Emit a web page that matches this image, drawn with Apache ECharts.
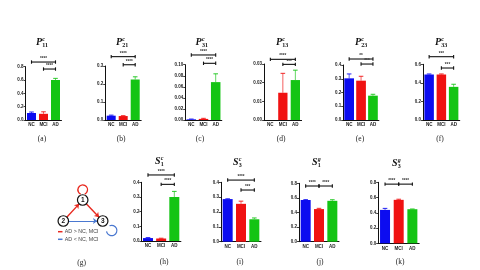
<!DOCTYPE html>
<html><head><meta charset="utf-8">
<script src="https://cdn.jsdelivr.net/npm/echarts@6/dist/echarts.min.js"></script>
<style>html,body{margin:0;padding:0;background:#fff}#c{width:480px;height:270px}</style>
</head><body><div id="c"></div>
<script>
// ---------- data ----------
const categories = ['NC', 'MCI', 'AD'];

const valuesA = [0.105, 0.093, 0.60];   const errA = [0.015, 0.03, 0.025];
const valuesB = [0.024, 0.022, 0.225];  const errB = [0.003, 0.002, 0.015];
const valuesC = [0.0012, 0.002, 0.0685]; const errC = [0.0005, 0.001, 0.015];
const valuesD = [0, 0.0146, 0.0214];    const errD = [0, 0.0104, 0.0053];
const valuesE = [0.303, 0.286, 0.177];  const errE = [0.032, 0.032, 0.01];
const valuesF = [0.49, 0.49, 0.357];    const errF = [0.006, 0.006, 0.028];
const valuesH = [0.02, 0.017, 0.30];    const errH = [0.003, 0.002, 0.038];
const valuesI = [0.287, 0.255, 0.151];  const errI = [0.002, 0.018, 0.009];
const valuesJ = [0.571, 0.447, 0.56];   const errJ = [0.005, 0.01, 0.015];
const valuesK = [0.438, 0.57, 0.447];   const errK = [0.02, 0.008, 0.003];

// y axis tick settings [max, interval, decimals]
const ticksA = [0.8, 0.2, 1];  const ticksB = [0.3, 0.1, 1];
const ticksC = [0.10, 0.02, 2]; const ticksD = [0.03, 0.01, 2];
const ticksE = [0.4, 0.1, 1];  const ticksF = [0.6, 0.2, 1];
const ticksH = [0.4, 0.1, 1];  const ticksI = [0.4, 0.1, 1];
const ticksJ = [0.8, 0.2, 1];  const ticksK = [0.8, 0.2, 1];

// significance brackets [fromIndex, toIndex, yValue, label]
const sigA = [[0, 2, 0.87, '****'], [1, 2, 0.765, '****']];
const sigB = [[0, 2, 0.352, '****'], [1, 2, 0.307, '****']];
const sigC = [[0, 2, 0.1176, '****'], [1, 2, 0.1025, '****']];
const sigD = [[0, 2, 0.0325, '****'], [1, 2, 0.0298, '***']];
const sigE = [[0, 2, 0.4436, '**'], [1, 2, 0.407, '***']];
const sigF = [[0, 2, 0.682, '***'], [1, 2, 0.56, '***']];
const sigH = [[0, 2, 0.45, '****'], [1, 2, 0.386, '****']];
const sigI = [[0, 2, 0.415, '****'], [1, 2, 0.348, '***']];
const sigJ = [[0, 1, 0.763, '****'], [1, 2, 0.763, '****']];
const sigK = [[0, 1, 0.776, '****'], [1, 2, 0.776, '****']];

// graph (g)
const graphNodes = [['1', 82.7, 200], ['2', 63.3, 221], ['3', 102.7, 221]];
const graphLinksUp = [['2', '1'], ['1', '3']];   // AD > NC, MCI
const graphLinksDown = [['2', '3']];             // AD < NC, MCI

// ---------- layout / style ----------
const barColors = ['#0c0cf0', '#f01212', '#14c414'];
const panels = [
  {v: valuesA, e: errA, t: ticksA, s: sigA, g: [25.5, 66.7, 36, 53.3], bw: 9, cap: '(a)', cx: 42, cy: 139, tt: ['P','c','11'], tx: 42, ty: 42},
  {v: valuesB, e: errB, t: ticksB, s: sigB, g: [105.2, 66, 36, 54], bw: 9, cap: '(b)', cx: 121, cy: 139, tt: ['P','c','21'], tx: 122, ty: 42},
  {v: valuesC, e: errC, t: ticksC, s: sigC, g: [185.2, 64.7, 36.6, 55.3], bw: 9.5, cap: '(c)', cx: 200, cy: 139, tt: ['P','c','31'], tx: 201.7, ty: 42},
  {v: valuesD, e: errD, t: ticksD, s: sigD, g: [264.1, 64, 37.5, 56], bw: 9.3, cap: '(d)', cx: 281, cy: 139, tt: ['P','c','13'], tx: 282, ty: 42},
  {v: valuesE, e: errE, t: ticksE, s: sigE, g: [343.2, 65, 35.7, 55], bw: 9.7, cap: '(e)', cx: 360, cy: 139, tt: ['P','c','23'], tx: 361, ty: 42},
  {v: valuesF, e: errF, t: ticksF, s: sigF, g: [423, 64.3, 36.75, 55.7], bw: 9.5, cap: '(f)', cx: 440, cy: 139, tt: ['P','c','33'], tx: 441, ty: 42},
  {v: valuesH, e: errH, t: ticksH, s: sigH, g: [141.4, 182.3, 39.5, 58.7], bw: 10, cap: '(h)', cx: 164, cy: 262, tt: ['S','c','1'], tx: 160.5, ty: 161.5},
  {v: valuesI, e: errI, t: ticksI, s: sigI, g: [221, 182.3, 40, 59.4], bw: 10, cap: '(i)', cx: 240, cy: 262, tt: ['S','c','3'], tx: 238.5, ty: 162.5},
  {v: valuesJ, e: errJ, t: ticksJ, s: sigJ, g: [299, 183.3, 40, 58.4], bw: 10, cap: '(j)', cx: 320, cy: 262, tt: ['S','g','1'], tx: 317.5, ty: 162},
  {v: valuesK, e: errK, t: ticksK, s: sigK, g: [378.2, 182.3, 41, 61], bw: 10, cap: '(k)', cx: 400, cy: 262, tt: ['S','g','3'], tx: 397.5, ty: 163}
];

const grid = [], xAxis = [], yAxis = [], series = [], graphic = [];
const lblFont = {fontSize: 4.5, fontWeight: 'bold', color: '#222', fontFamily: 'Liberation Sans'};

panels.forEach((p, k) => {
  grid.push({left: p.g[0], top: p.g[1], width: p.g[2], height: p.g[3], containLabel: false});
  xAxis.push({type: 'category', gridIndex: k, data: categories,
    axisLine: {lineStyle: {color: '#111', width: 1}}, axisTick: {show: false},
    axisLabel: Object.assign({margin: 2.5, interval: 0}, lblFont)});
  const dec = p.t[2];
  yAxis.push({type: 'value', gridIndex: k, min: 0, max: p.t[0], interval: p.t[1],
    axisLine: {show: true, lineStyle: {color: '#111', width: 1}},
    axisTick: {show: true, length: 2, lineStyle: {color: '#111', width: 0.8}},
    splitLine: {show: false},
    axisLabel: Object.assign({margin: 2, formatter: v => v.toFixed(dec)}, lblFont)});
  series.push({type: 'bar', xAxisIndex: k, yAxisIndex: k, barWidth: p.bw, silent: true,
    data: p.v.map((val, i) => ({value: val, itemStyle: {color: barColors[i], borderColor: barColors[i], borderWidth: 0}}))});
  // error bars
  series.push({type: 'custom', xAxisIndex: k, yAxisIndex: k, silent: true, clip: false,
    data: p.v.map((val, i) => [i, val, p.e[i]]),
    renderItem: (params, api) => {
      const i = params.dataIndex, val = p.v[i], er = p.e[i];
      if (er <= 0) return null;
      const b = api.coord([i, val]), t = api.coord([i, val + er]);
      const c = barColors[i];
      return {type: 'group', children: [
        {type: 'line', shape: {x1: b[0], y1: b[1], x2: t[0], y2: t[1]}, style: {stroke: c, lineWidth: 0.9, opacity: 0.75}},
        {type: 'line', shape: {x1: t[0] - 2.3, y1: t[1], x2: t[0] + 2.3, y2: t[1]}, style: {stroke: c, lineWidth: 0.9}}
      ]};
    }});
  // significance brackets
  series.push({type: 'custom', xAxisIndex: k, yAxisIndex: k, silent: true, clip: false,
    data: p.s.map(s => [s[0], s[2]]),
    renderItem: (params, api) => {
      const s = p.s[params.dataIndex];
      const a = api.coord([s[0], s[2]]), b = api.coord([s[1], s[2]]);
      const st = {stroke: '#111', lineWidth: 1.1};
      return {type: 'group', children: [
        {type: 'line', shape: {x1: a[0], y1: a[1], x2: b[0], y2: b[1]}, style: st},
        {type: 'line', shape: {x1: a[0], y1: a[1] - 1.7, x2: a[0], y2: a[1] + 1.7}, style: st},
        {type: 'line', shape: {x1: b[0], y1: b[1] - 1.7, x2: b[0], y2: b[1] + 1.7}, style: st},
        {type: 'text', style: {text: s[3], x: (a[0] + b[0]) / 2, y: a[1] - 0.6, align: 'center', verticalAlign: 'bottom',
          fontSize: 4.5, fontWeight: 'bold', fill: '#333', fontFamily: 'Liberation Sans'}}
      ]};
    }});
  // caption
  graphic.push({type: 'text', x: p.cx, y: p.cy, style: {text: p.cap, align: 'center', verticalAlign: 'middle',
    fontSize: 7.5, fill: '#222', fontFamily: 'Liberation Serif'}});
  // title with super/subscript
  graphic.push({type: 'text', x: p.tx, y: p.ty, style: {text: p.tt[0], align: 'right', verticalAlign: 'middle',
    fontSize: 10, fontWeight: 'bold', fontStyle: 'italic', fill: '#111', fontFamily: 'Liberation Serif'}});
  graphic.push({type: 'text', x: p.tx + 0.3, y: p.ty - 3, style: {text: p.tt[1], align: 'left', verticalAlign: 'middle',
    fontSize: 6, fontStyle: 'italic', fontWeight: 'bold', fill: '#111', fontFamily: 'Liberation Serif'}});
  graphic.push({type: 'text', x: p.tx + 0.3, y: p.ty + 3, style: {text: p.tt[2], align: 'left', verticalAlign: 'middle',
    fontSize: 6, fontWeight: 'bold', fill: '#111', fontFamily: 'Liberation Serif'}});
});

// ---------- graph (g) ----------
const red = '#e8281e', blue = '#4a78d0';
series.push({type: 'graph', layout: 'none', silent: true, left: 63.3, top: 200, width: 39.4, height: 21,
  symbolSize: 10.5, z: 5,
  itemStyle: {color: '#fff', borderColor: '#111', borderWidth: 1.2},
  label: {show: true, position: 'inside', fontSize: 6.5, color: '#111', fontWeight: 'bold', fontFamily: 'Liberation Sans'},
  edgeSymbol: ['none', 'arrow'], edgeSymbolSize: 4.5,
  lineStyle: {opacity: 1, curveness: 0},
  data: graphNodes.map(n => ({name: n[0], x: n[1], y: n[2]})),
  links: graphLinksUp.map(l => ({source: l[0], target: l[1], lineStyle: {color: red, width: 1.4, opacity: 1}}))
    .concat(graphLinksDown.map(l => ({source: l[0], target: l[1], lineStyle: {color: blue, width: 1.2, opacity: 1}})))
});
const deg = Math.PI / 180;
graphic.push({type: 'arc', shape: {cx: 82.7, cy: 189.8, r: 4.8, startAngle: 115 * deg, endAngle: 65 * deg, clockwise: true},
  style: {stroke: red, lineWidth: 1.4, fill: null}});
graphic.push({type: 'arc', shape: {cx: 111.7, cy: 230.5, r: 5.2, startAngle: -115 * deg, endAngle: 170 * deg, clockwise: true},
  style: {stroke: blue, lineWidth: 1.2, fill: null}});
graphic.push({type: 'line', shape: {x1: 58, y1: 231.7, x2: 62.5, y2: 231.7}, style: {stroke: red, lineWidth: 1.5}});
graphic.push({type: 'line', shape: {x1: 58, y1: 239.3, x2: 62.5, y2: 239.3}, style: {stroke: blue, lineWidth: 1.5}});
graphic.push({type: 'text', x: 64.8, y: 231.9, style: {text: 'AD > NC, MCI', verticalAlign: 'middle', fontSize: 5.3, fill: '#444', fontFamily: 'Liberation Sans'}});
graphic.push({type: 'text', x: 64.8, y: 239.5, style: {text: 'AD < NC, MCI', verticalAlign: 'middle', fontSize: 5.3, fill: '#444', fontFamily: 'Liberation Sans'}});
graphic.push({type: 'text', x: 81.7, y: 263, style: {text: '(g)', align: 'center', verticalAlign: 'middle', fontSize: 7.5, fill: '#222', fontFamily: 'Liberation Serif'}});

const chart = echarts.init(document.getElementById('c'), null, {renderer: 'canvas'});
chart.setOption({animation: false, backgroundColor: '#fff', grid, xAxis, yAxis, series, graphic});
</script></body></html>
